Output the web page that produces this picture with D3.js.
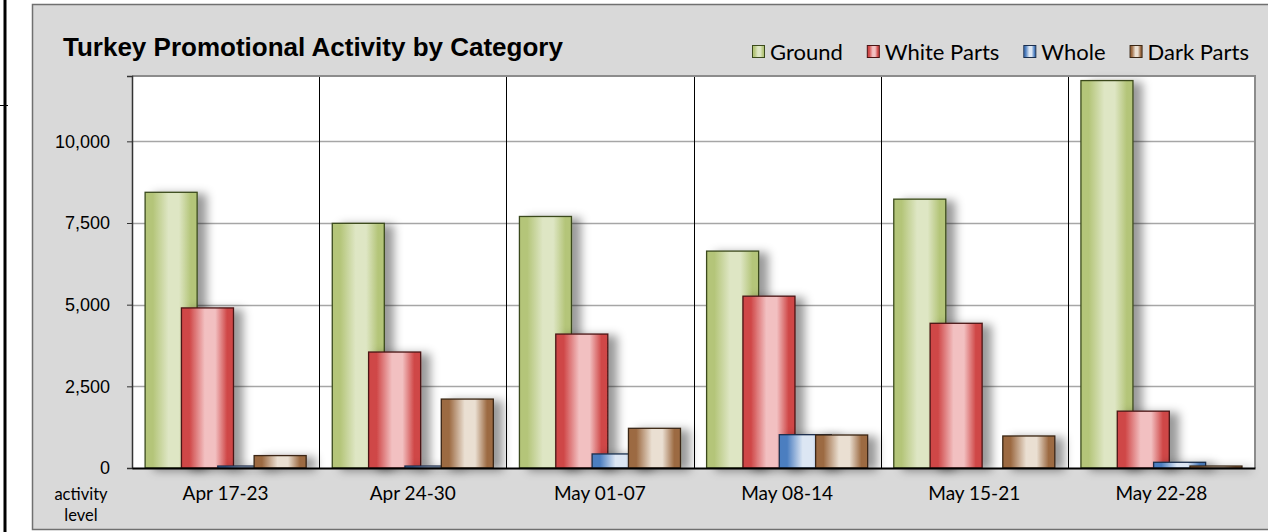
<!DOCTYPE html>
<html>
<head>
<meta charset="utf-8">
<script src="https://cdn.jsdelivr.net/npm/d3@7"></script>
<style>
  body { margin: 0; background: #fff; }
  svg { display: block; }
  .title { font-family: "Liberation Sans", Arial, sans-serif; font-weight: bold; font-size: 26px; fill: #000; }
  .legend text { font-family: Lato, "Open Sans", sans-serif; font-size: 22px; fill: #000; }
  .axis--y text { font-family: "Liberation Sans", Arial, sans-serif; font-size: 18px; fill: #000; }
  .axis--x text { font-family: Lato, "Open Sans", sans-serif; font-size: 19px; fill: #000; }
  .ylabel { font-family: Lato, "Open Sans", sans-serif; font-size: 16.5px; fill: #000; }
</style>
</head>
<body>
<div id="chart"></div>
<script>
// data
var weeks = ['Apr 17-23', 'Apr 24-30', 'May 01-07', 'May 08-14', 'May 15-21', 'May 22-28'];
var seriesNames = ['Ground', 'White Parts', 'Whole', 'Dark Parts'];
var ground     = [8440, 7490, 7700, 6640, 8230, 11860];
var whiteParts = [4900, 3550, 4100, 5260, 4430, 1740];
var whole      = [60, 60, 430, 1020, 0, 175];
var darkParts  = [380, 2110, 1215, 1010, 980, 60];
var yTicks = [0, 2500, 5000, 7500, 10000];

var values = [ground, whiteParts, whole, darkParts];

// colour pairs: edge / highlight
var colors = [
    {edge: '#b4c579', light: '#dee6c4', stroke: '#3b4a1c'},
    {edge: '#cf4646', light: '#f2c0c1', stroke: '#4a1414'},
    {edge: '#4c7ec0', light: '#dce6f3', stroke: '#1b2f4d'},
    {edge: '#9c6a42', light: '#eadfd2', stroke: '#3a2614'}
];

var W = 1268, H = 532;
var plot = {left: 132, top: 76, right: 1255, bottom: 468};

var svg = d3.select('#chart').append('svg')
    .attr('width', W)
    .attr('height', H);

var defs = svg.append('defs');

colors.forEach(function(c, i){
    var g = defs.append('linearGradient')
        .attr('id', 'grad' + i)
        .attr('x1', '0%').attr('x2', '100%')
        .attr('y1', '0%').attr('y2', '0%');
    g.append('stop').attr('offset', '0%').attr('stop-color', c.edge);
    g.append('stop').attr('offset', '15%').attr('stop-color', c.edge);
    g.append('stop').attr('offset', '45%').attr('stop-color', c.light);
    g.append('stop').attr('offset', '65%').attr('stop-color', c.light);
    g.append('stop').attr('offset', '88%').attr('stop-color', c.edge);
    g.append('stop').attr('offset', '100%').attr('stop-color', c.edge);
});

var shadow = defs.append('filter')
    .attr('id', 'shadow')
    .attr('filterUnits', 'userSpaceOnUse')
    .attr('x', 0).attr('y', 0).attr('width', W).attr('height', H);
shadow.append('feDropShadow')
    .attr('dx', 9).attr('dy', 2)
    .attr('stdDeviation', 5)
    .attr('flood-color', '#000')
    .attr('flood-opacity', 0.4);

// page frame bits on the left
svg.append('line')
    .attr('x1', 5).attr('x2', 5).attr('y1', 0).attr('y2', H)
    .attr('stroke', '#000').attr('stroke-width', 3);
svg.append('line')
    .attr('x1', 0).attr('x2', 8).attr('y1', 105.5).attr('y2', 105.5)
    .attr('stroke', '#000').attr('stroke-width', 1);

// chart panel
svg.append('rect')
    .attr('x', 32.5).attr('y', 4.5)
    .attr('width', W).attr('height', 525)
    .attr('fill', '#d9d9d9')
    .attr('stroke', '#707070')
    .attr('stroke-width', 1.5);

// title
svg.append('text')
    .attr('class', 'title')
    .attr('x', 63).attr('y', 56)
    .text('Turkey Promotional Activity by Category');

// scales
var x = d3.scaleBand().domain(weeks).range([plot.left, plot.right]).padding(0);
var y = d3.scaleLinear().domain([0, 12000]).range([plot.bottom, plot.top]);

var bw = x.bandwidth();
var inner = d3.scaleLinear().domain([0, 3]).range([bw * 0.07, bw * 0.07 + bw * 0.5825]);
var barW = bw * 0.278;

// plot area
svg.append('rect')
    .attr('x', plot.left).attr('y', plot.top)
    .attr('width', plot.right - plot.left).attr('height', plot.bottom - plot.top)
    .attr('fill', '#fff');

// gridlines
svg.append('g')
    .attr('class', 'grid')
    .selectAll('line')
    .data(yTicks.slice(1))
    .enter().append('line')
    .attr('x1', plot.left).attr('x2', plot.right)
    .attr('y1', function(d){ return Math.round(y(d)) + 0.5; })
    .attr('y2', function(d){ return Math.round(y(d)) + 0.5; })
    .attr('stroke', '#a6a6a6')
    .attr('stroke-width', 1.5);

// category separators
svg.append('g')
    .selectAll('line')
    .data(weeks.slice(1))
    .enter().append('line')
    .attr('x1', function(d){ return Math.round(x(d)) + 0.5; })
    .attr('x2', function(d){ return Math.round(x(d)) + 0.5; })
    .attr('y1', plot.top).attr('y2', plot.bottom)
    .attr('stroke', '#000')
    .attr('stroke-width', 1);

// bars
var groups = svg.append('g').attr('class', 'bars')
    .selectAll('g')
    .data(weeks)
    .enter().append('g')
    .attr('transform', function(d){ return 'translate(' + x(d) + ',0)'; });

groups.each(function(w, wi){
    var g = d3.select(this);
    values.forEach(function(s, si){
        var v = s[wi];
        if (v <= 0) return;
        g.append('rect')
            .attr('x', inner(si))
            .attr('y', y(v))
            .attr('width', barW)
            .attr('height', y(0) - y(v))
            .attr('fill', 'url(#grad' + si + ')')
            .attr('stroke', colors[si].stroke)
            .attr('stroke-width', 1.3)
            .attr('filter', 'url(#shadow)');
    });
});

// plot border top/right (gray)
svg.append('path')
    .attr('d', 'M' + plot.left + ',' + plot.top + 'H' + plot.right + 'V' + plot.bottom)
    .attr('fill', 'none')
    .attr('stroke', '#8c8c8c')
    .attr('stroke-width', 2);

// axes
var yAxis = svg.append('g')
    .attr('class', 'axis axis--y')
    .attr('transform', 'translate(' + plot.left + ',0)')
    .call(d3.axisLeft(y).tickValues(yTicks).tickSize(5).tickPadding(17)
        .tickFormat(d3.format(',')));
yAxis.select('.domain').attr('stroke', '#333').attr('stroke-width', 1.5);
yAxis.selectAll('.tick line').attr('stroke', '#333');

var xAxis = svg.append('g')
    .attr('class', 'axis axis--x')
    .attr('transform', 'translate(0,' + plot.bottom + ')')
    .call(d3.axisBottom(x).tickSize(0).tickPadding(19));
xAxis.select('.domain').attr('stroke', '#000').attr('stroke-width', 2);

svg.append('text').attr('class', 'ylabel')
    .attr('x', 81).attr('y', 500).attr('text-anchor', 'middle').text('activity');
svg.append('text').attr('class', 'ylabel')
    .attr('x', 81).attr('y', 521).attr('text-anchor', 'middle').text('level');

// legend
var legend = svg.append('g').attr('class', 'legend');
var lx = 752;
seriesNames.forEach(function(name, i){
    var item = legend.append('g').attr('transform', 'translate(' + lx + ',0)');
    item.append('rect')
        .attr('x', 0.5).attr('y', 45.5)
        .attr('width', 12).attr('height', 12)
        .attr('fill', 'url(#grad' + i + ')')
        .attr('stroke', colors[i].stroke)
        .attr('stroke-width', 1);
    var t = item.append('text')
        .attr('x', 18).attr('y', 59.5)
        .text(name);
    lx += 18 + t.node().getComputedTextLength() + 24;
});
</script>
</body>
</html>
